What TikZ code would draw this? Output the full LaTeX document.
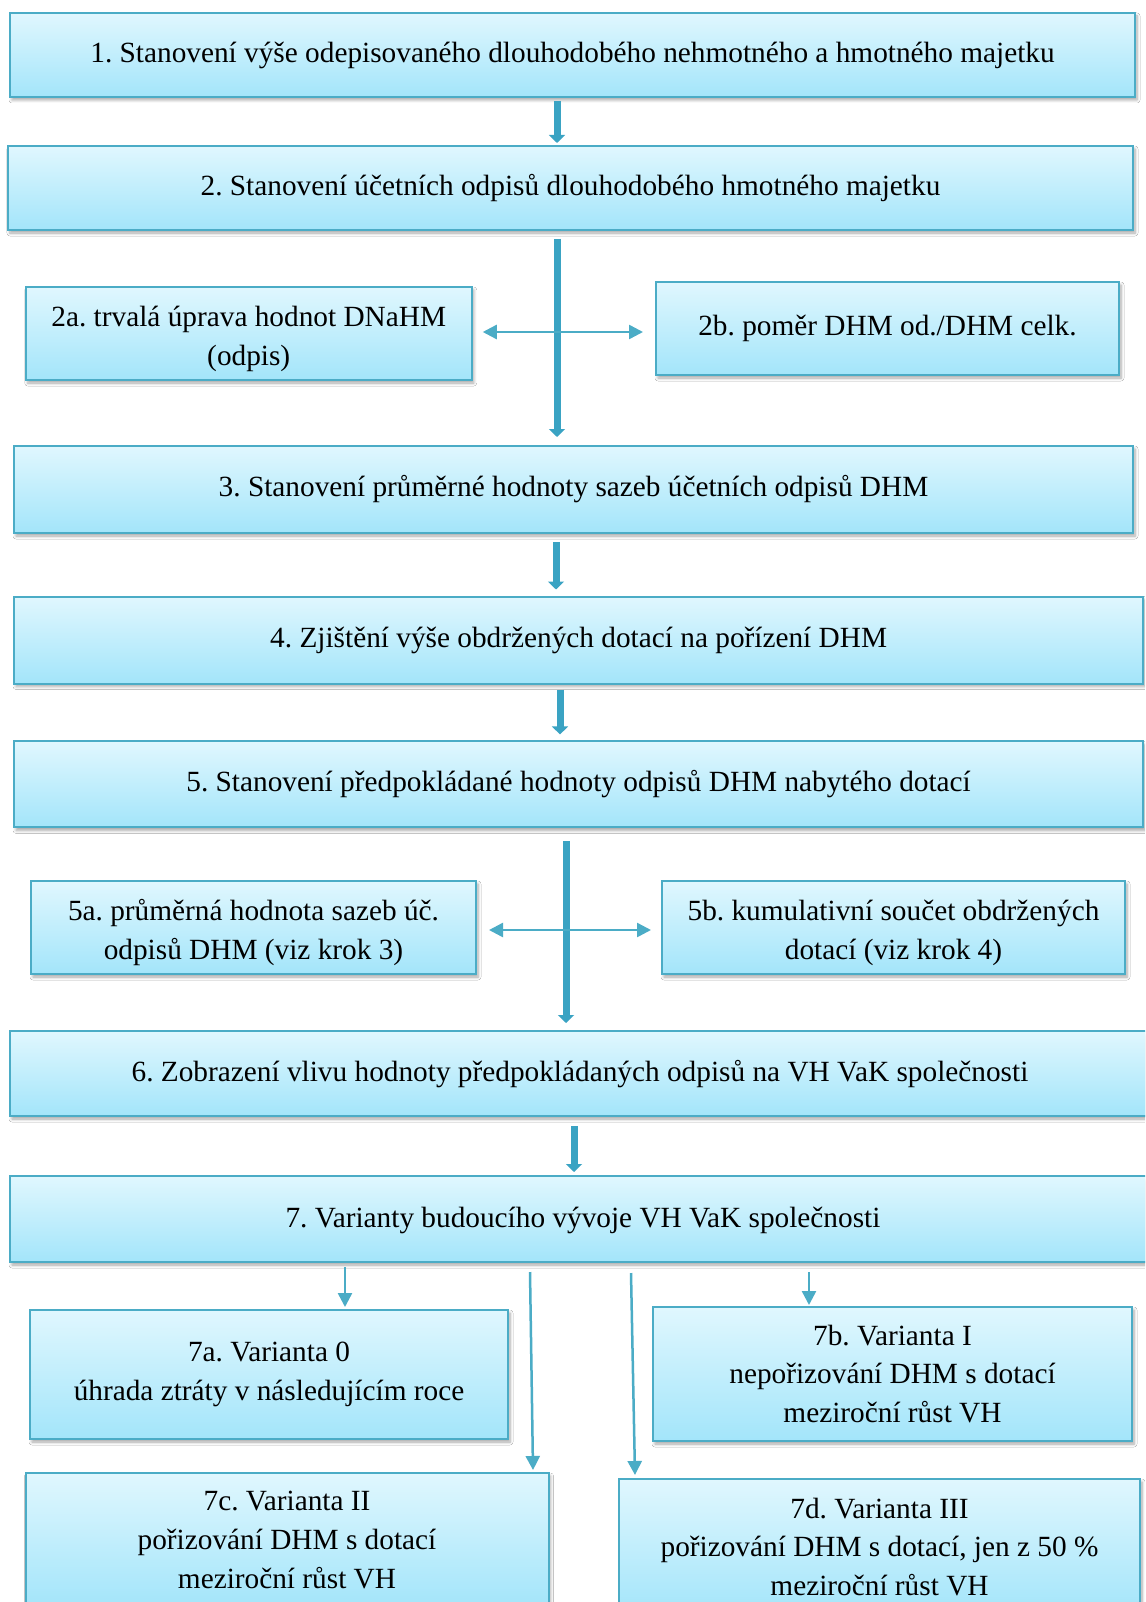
\documentclass[tikz,border=0pt]{standalone}
\usepackage{fontspec}
\setmainfont{Liberation Serif}
\frenchspacing
\usetikzlibrary{arrows.meta,calc,shadows.blur}
\definecolor{bordc}{RGB}{75,172,198}
\definecolor{topc}{RGB}{224,247,254}
\definecolor{botc}{RGB}{163,229,250}
\definecolor{arrc}{RGB}{58,163,195}
\definecolor{thinc}{RGB}{75,172,198}
\newcommand{\lowerstrut}{\rule{0pt}{31pt}}
\tikzset{
  box/.style={draw=bordc, line width=2pt, top color=topc, bottom color=botc,
    inner sep=0pt, align=center, text=black,
    font=\fontsize{29.3pt}{38.8pt}\selectfont,
    blur shadow={shadow blur steps=6, shadow xshift=2pt, shadow yshift=-3pt, shadow opacity=35, shadow blur radius=3pt}},
  boxtext/.style={font=\fontsize{29.3pt}{38.8pt}\selectfont, text=black, inner sep=0pt},
  mainarrow/.style={draw=arrc, line width=7pt, -{Triangle[width=16pt,length=8pt]}},
  thinarrow/.style={draw=thinc, line width=2.5pt, -{Triangle[width=14pt,length=14pt]}},
  biarrow/.style={draw=thinc, line width=2.5pt, {Triangle[width=14pt,length=14pt]}-{Triangle[width=14pt,length=14pt]}}
}
\begin{document}
\begin{tikzpicture}[x=1pt,y=-1pt]
\useasboundingbox (0,0) rectangle (1145,1602);
\clip (0,0) rectangle (1145,1602);
\fill[white] (0,0) rectangle (1145,1602);

\node[box, minimum width=1125pt, minimum height=84pt] (b1) at (572.5,55) {1. Stanovení výše odepisovaného dlouhodobého nehmotného a hmotného majetku};
\node[box, minimum width=1125pt, minimum height=84pt] (b2) at (570.5,188) {2. Stanovení účetních odpisů dlouhodobého hmotného majetku};
\node[box, minimum width=446pt, minimum height=93pt] (b2a) at (248.75,333.5) {\lowerstrut 2a. trvalá úprava hodnot DNaHM\\(odpis)};
\node[box, minimum width=463pt, minimum height=93pt] (b2b) at (887.5,328.5) {2b. poměr DHM od./DHM celk.};
\node[box, minimum width=1119pt, minimum height=87pt] (b3) at (573.5,489.5) {3. Stanovení průměrné hodnoty sazeb účetních odpisů DHM};
\node[box, minimum width=1129pt, minimum height=87pt] (b4) at (578.6,640) {4. Zjištění výše obdržených dotací na pořízení DHM};
\node[box, minimum width=1129pt, minimum height=86pt] (b5) at (578.6,784.4) {5. Stanovení předpokládané hodnoty odpisů DHM nabytého dotací};
\node[box, minimum width=445pt, minimum height=93pt] (b5a) at (253.5,927.5) {\lowerstrut 5a. průměrná hodnota sazeb úč.\\odpisů DHM (viz krok 3)};
\node[box, minimum width=463pt, minimum height=93pt] (b5b) at (893.5,927.5) {\lowerstrut 5b. kumulativní součet obdržených\\dotací (viz krok 4)};
\node[box, minimum width=1145pt, minimum height=85pt] (b6) at (582.5,1073.5) {};
\node[boxtext] (t6) at (580,1074.5) {6. Zobrazení vlivu hodnoty předpokládaných odpisů na VH VaK společnosti};
\node[box, minimum width=1145pt, minimum height=86pt] (b7) at (582.5,1219) {};
\node[boxtext] (t7) at (583,1220) {7. Varianty budoucího vývoje VH VaK společnosti};
\node[box, minimum width=478pt, minimum height=129pt] (b7a) at (269,1374.5) {7a. Varianta 0\\úhrada ztráty v následujícím roce};
\node[box, minimum width=479pt, minimum height=134pt] (b7b) at (892.5,1374) {7b. Varianta I\\nepořizování DHM s dotací\\meziroční růst VH};
\node[box, minimum width=523pt, minimum height=134pt] (b7c) at (287,1540) {7c. Varianta II\\pořizování DHM s dotací\\meziroční růst VH};
\node[box, minimum width=521pt, minimum height=136pt] (b7d) at (879.5,1547) {7d. Varianta III\\pořizování DHM s dotací, jen z 50 \%\\meziroční růst VH};

% arrow x positions
\coordinate (x12) at (557,0);
\coordinate (x23) at (557,0);
\coordinate (x34) at (556,0);
\coordinate (x45) at (560,0);
\coordinate (x56) at (566,0);
\coordinate (x67) at (574,0);
\coordinate (h2) at (0,332);
\coordinate (h5) at (0,930);
\coordinate (x7a) at (345,0);
\coordinate (x7b) at (809,0);

\draw[mainarrow] ($(b1.south -| x12)+(0,3)$) -- ($(b2.north -| x12)+(0,-2)$);
\draw[mainarrow] ($(b2.south -| x23)+(0,8)$) -- ($(b3.north -| x23)+(0,-8)$);
\draw[mainarrow] ($(b3.south -| x34)+(0,8)$) -- ($(b4.north -| x34)+(0,-6)$);
\draw[mainarrow] ($(b4.south -| x45)+(0,5)$) -- ($(b5.north -| x45)+(0,-6)$);
\draw[mainarrow] ($(b5.south -| x56)+(0,13)$) -- ($(b6.north -| x56)+(0,-7)$);
\draw[mainarrow] ($(b6.south -| x67)+(0,9)$) -- ($(b7.north -| x67)+(0,-3)$);

\draw[biarrow] ($(b2a.east |- h2)+(10,0)$) -- ($(b2b.west |- h2)+(-12,0)$);
\draw[biarrow] ($(b5a.east |- h5)+(12,0)$) -- ($(b5b.west |- h5)+(-10,0)$);

\draw[thinarrow] ($(b7.south -| x7a)+(0,4)$) -- ($(b7a.north -| x7a)+(0,-2)$);
\draw[thinarrow] ($(b7.south -| x7b)+(0,9)$) -- ($(b7b.north -| x7b)+(0,-1)$);
\draw[thinarrow] ($(b7.south)+(-52.5,9)$) -- ($(b7c.north)+(246,-2)$);
\draw[thinarrow] ($(b7.south)+(48.5,10)$) -- ($(b7d.north)+(-244.5,-3)$);
\end{tikzpicture}
\end{document}
